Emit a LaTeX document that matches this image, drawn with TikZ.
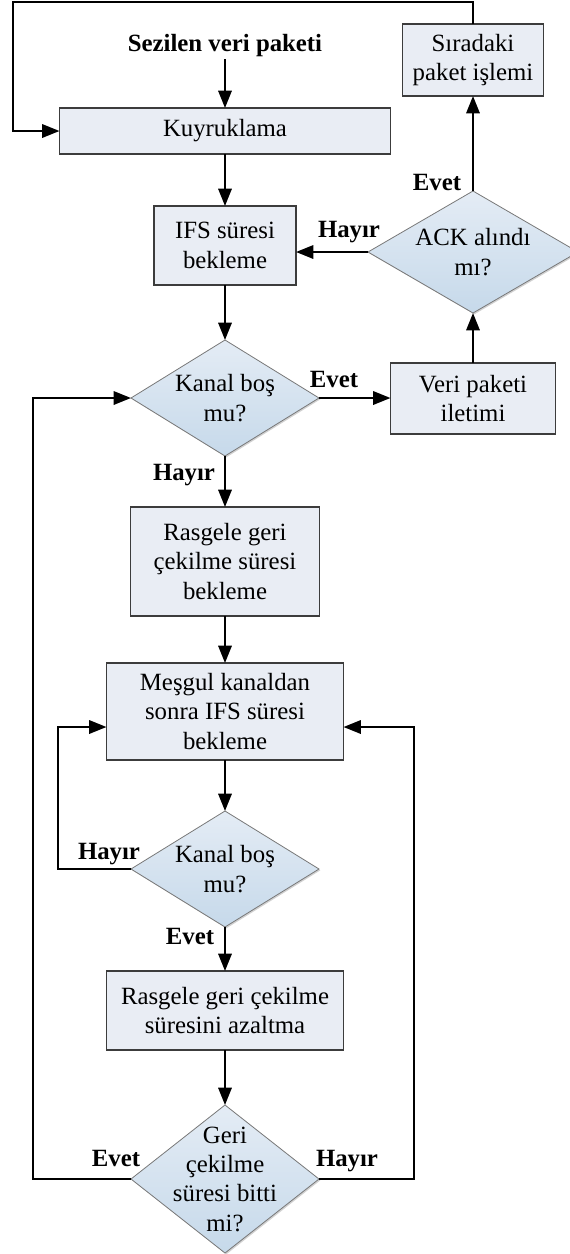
\documentclass[tikz,border=0pt]{standalone}
\usepackage{fontspec}
\setmainfont{Liberation Serif}
\usetikzlibrary{shapes.geometric,arrows.meta,shadows}
\definecolor{boxfill}{RGB}{233,237,244}
\definecolor{boxborder}{RGB}{60,60,60}
\definecolor{diatop}{RGB}{228,236,245}
\definecolor{diabot}{RGB}{198,217,234}
\definecolor{diaborder}{RGB}{120,120,120}
\newcommand\myfs{\fontsize{18.6}{22}\selectfont}
\begin{document}
\begin{tikzpicture}[x=0.75pt,y=-0.75pt,
  box/.style={draw=boxborder, fill=boxfill, line width=0.9pt, align=center, inner sep=0pt, outer sep=0pt, font=\myfs},
  dia/.style={diamond, draw=diaborder, line width=0.6pt, top color=diatop, bottom color=diabot, inner sep=0pt, outer sep=0pt,
    drop shadow={shadow xshift=1pt, shadow yshift=-1pt, fill=black, opacity=0.18}},
  txt/.style={align=center, font=\myfs, inner sep=0pt},
  lbl/.style={font=\myfs\bfseries, inner sep=2pt},
  arr/.style={line width=1.7pt, -{Triangle[length=13pt,width=10pt]}},
  ln/.style={line width=1.7pt}]
\useasboundingbox (0,0) rectangle (569,1254);

% nodes
\node[box, minimum width=105.75pt, minimum height=54pt] (sira) at (473,60) {Sıradaki\\paket işlemi};
\node[lbl, anchor=base] (sez) at (225,51) {Sezilen veri paketi};
\node[box, minimum width=248.25pt, minimum height=34.5pt] (kuy) at (225,131) {Kuyruklama};
\node[box, minimum width=106.5pt, minimum height=59.25pt] (ifs) at (225,245.5) {IFS süresi\\bekleme};
\node[dia, minimum width=157.5pt, minimum height=91.5pt] (ack) at (473,252) {};
\node[txt] (ackt) at (ack) {ACK alındı\\mı?};
\node[dia, minimum width=141pt, minimum height=87pt] (d1) at (225,398) {};
\node[txt] (d1t) at (d1) {Kanal boş\\mu?};
\node[box, minimum width=123.75pt, minimum height=53.25pt] (veri) at (473,398.5) {Veri paketi\\iletimi};
\node[box, minimum width=141.75pt, minimum height=81.75pt] (rg) at (225,561.5) {Rasgele geri\\çekilme süresi\\bekleme};
\node[box, minimum width=177.75pt, minimum height=72.75pt] (mes) at (225,711.5) {Meşgul kanaldan\\sonra IFS süresi\\bekleme};
\node[dia, minimum width=141pt, minimum height=87pt] (d2) at (225,869) {};
\node[txt] (d2t) at (d2) {Kanal boş\\mu?};
\node[box, minimum width=177.75pt, minimum height=59.25pt] (rg2) at (225,1010.5) {Rasgele geri çekilme\\süresini azaltma};
\node[dia, minimum width=141pt, minimum height=111pt] (d3) at (225,1179) {};
\node[txt] (d3t) at (d3) {Geri\\çekilme\\süresi bitti\\mi?};

% labels
\node[lbl, anchor=base] (l1) at (349,237.5) {Hayır};
\node[lbl, anchor=base] (l2) at (437,190.5) {Evet};
\node[lbl, anchor=base] (l3) at (334,387.5) {Evet};
\node[lbl, anchor=base] (l4) at (184,480.5) {Hayır};
\node[lbl, anchor=base] (l5) at (109,859.5) {Hayır};
\node[lbl, anchor=base] (l6) at (190,944.5) {Evet};
\node[lbl, anchor=base] (l7) at (116,1166.5) {Evet};
\node[lbl, anchor=base] (l8) at (347,1166.5) {Hayır};

% coordinates
\coordinate (tl) at (13,2);
\coordinate (c1) at (33,1179);
\coordinate (c2) at (58,727);
\coordinate (c3) at (414,727);

% connectors
\draw[arr] (sira.north) |- (tl) |- (kuy.west);
\draw[arr] (sez.south) -- (kuy.north);
\draw[arr] (kuy.south) -- (ifs.north);
\draw[arr] (ifs.south) -- (d1.north);
\draw[arr] (d1.east) -- (veri.west |- d1.east);
\draw[arr] (veri.north) -- (ack.south);
\draw[arr] (ack.north) -- (sira.south);
\draw[arr] (ack.west) -- (ack.west -| ifs.east);
\draw[arr] (d1.south) -- (rg.north);
\draw[arr] (rg.south) -- (mes.north);
\draw[arr] (mes.south) -- (d2.north);
\draw[arr] (d2.west) -| (c2) -- (c2 -| mes.west);
\draw[arr] (d2.south) -- (rg2.north);
\draw[arr] (rg2.south) -- (d3.north);
\draw[arr] (d3.west) -- (c1) |- (d1.west);
\draw[arr] (d3.east) -| (c3) -- (c3 -| mes.east);
\end{tikzpicture}
\end{document}
